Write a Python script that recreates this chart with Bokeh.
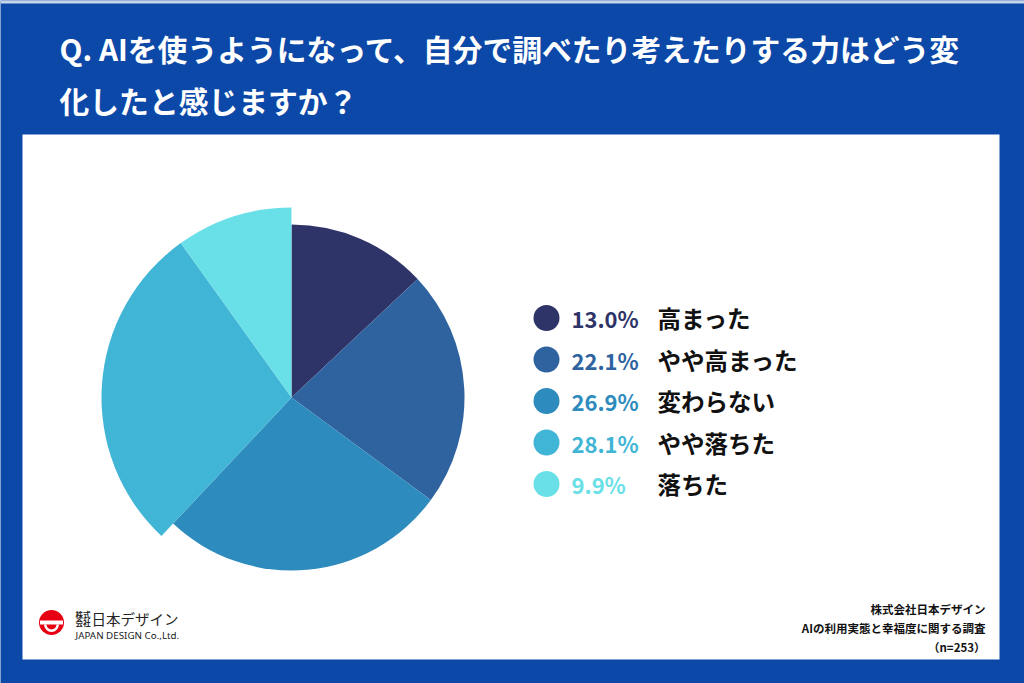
import math
from bokeh.plotting import figure
from bokeh.models import ColumnDataSource
from bokeh.core.properties import value
from bokeh.embed import file_html
from bokeh.resources import INLINE

# ---- data ----
categories = ["高まった", "やや高まった", "変わらない", "やや落ちた", "落ちた"]
percents = [13.0, 22.1, 26.9, 28.1, 9.9]
pct_labels = ["13.0%", "22.1%", "26.9%", "28.1%", "9.9%"]
title_lines = ["Q. AIを使うようになって、自分で調べたり考えたりする力はどう変", "化したと感じますか？"]
source_lines = ["株式会社日本デザイン", "AIの利用実態と幸福度に関する調査", "（n=253）"]

# ---- style ----
colors = ["#2e3468", "#2f63a0", "#2d8bbd", "#40b5d6", "#69e0e7"]
radii = [173, 173, 173, 190, 190]
BG = "#0b48a8"
FONT = "Noto Sans CJK JP"
W, H = 1024, 683

def Y(y):
    return H - y

p = figure(width=W, height=H, x_range=(0, W), y_range=(0, H),
           output_backend="svg", toolbar_location=None, min_border=0,
           background_fill_color=BG, border_fill_color=BG, outline_line_color=None)
p.axis.visible = False
p.grid.visible = False

# top light strip
p.quad(left=0, right=W, bottom=Y(3), top=Y(0), fill_color="#c9d5ea", line_color=None)
# white panel
p.quad(left=22, right=999, bottom=Y(659), top=Y(134), fill_color="white", line_color=None)

# title
for i, t in enumerate(title_lines):
    p.text(x=[59], y=[Y(47 + i * 52)], text=[t], text_color="white",
           text_font=value(FONT), text_font_style="bold", text_font_size="29.8px",
           text_align="left", text_baseline="middle")

# pie
total = sum(percents)
starts, ends = [], []
cum = 0.0
for v in percents:
    starts.append(math.pi / 2 - 2 * math.pi * cum / total)
    cum += v
    ends.append(math.pi / 2 - 2 * math.pi * cum / total)
src = ColumnDataSource(dict(start=starts, end=ends, color=colors, r=radii,
                            cat=categories, pct=percents))
cx, cy = 291, 397
p.wedge(x=cx, y=Y(cy), radius="r", start_angle="start", end_angle="end",
        direction="clock", fill_color="color", line_color=None, source=src)

# legend
leg_y = [Y(317.5 + 41.5 * i) for i in range(len(categories))]
lsrc = ColumnDataSource(dict(y=leg_y, color=colors, pct=pct_labels, cat=categories))
p.scatter(x=546, y="y", size=26, marker="circle", fill_color="color", line_color=None, source=lsrc)
p.text(x=571, y="y", text="pct", text_color="color", source=lsrc,
       text_font=value(FONT), text_font_style="bold", text_font_size="22px",
       text_align="left", text_baseline="middle")
p.text(x=657, y="y", text="cat", text_color="#111111", source=lsrc,
       text_font=value(FONT), text_font_style="bold", text_font_size="23.5px",
       text_align="left", text_baseline="middle")

# source note
for i, t in enumerate(source_lines):
    p.text(x=[985], y=[Y(608 + 19 * i)], text=[t], text_color="#111111",
           text_font=value(FONT), text_font_style="bold", text_font_size="11.5px",
           text_align="right", text_baseline="middle")

# logo
p.scatter(x=[51], y=[Y(622)], size=25, marker="circle", fill_color="#e60012", line_color=None)
p.quad(left=[39.5], right=[62.5], bottom=[Y(624)], top=[Y(620)], fill_color="white", line_color=None)
p.annular_wedge(x=[51], y=[Y(624)], inner_radius=5, outer_radius=7.5,
                start_angle=math.pi, end_angle=2 * math.pi, fill_color="white", line_color=None)
p.text(x=[75, 75], y=[Y(614), Y(622)], text=["株式", "会社"], text_color="#222222",
       text_font=value(FONT), text_font_style="bold", text_font_size="7.5px",
       text_align="left", text_baseline="middle")
p.text(x=[91], y=[Y(618)], text=["日本デザイン"], text_color="#222222",
       text_font=value(FONT), text_font_size="14.5px",
       text_align="left", text_baseline="middle")
p.text(x=[75], y=[Y(635)], text=["JAPAN DESIGN Co.,Ltd."], text_color="#222222",
       text_font=value("Noto Sans"), text_font_size="9.8px",
       text_align="left", text_baseline="middle")

open("out.html", "w").write(file_html(p, INLINE))
